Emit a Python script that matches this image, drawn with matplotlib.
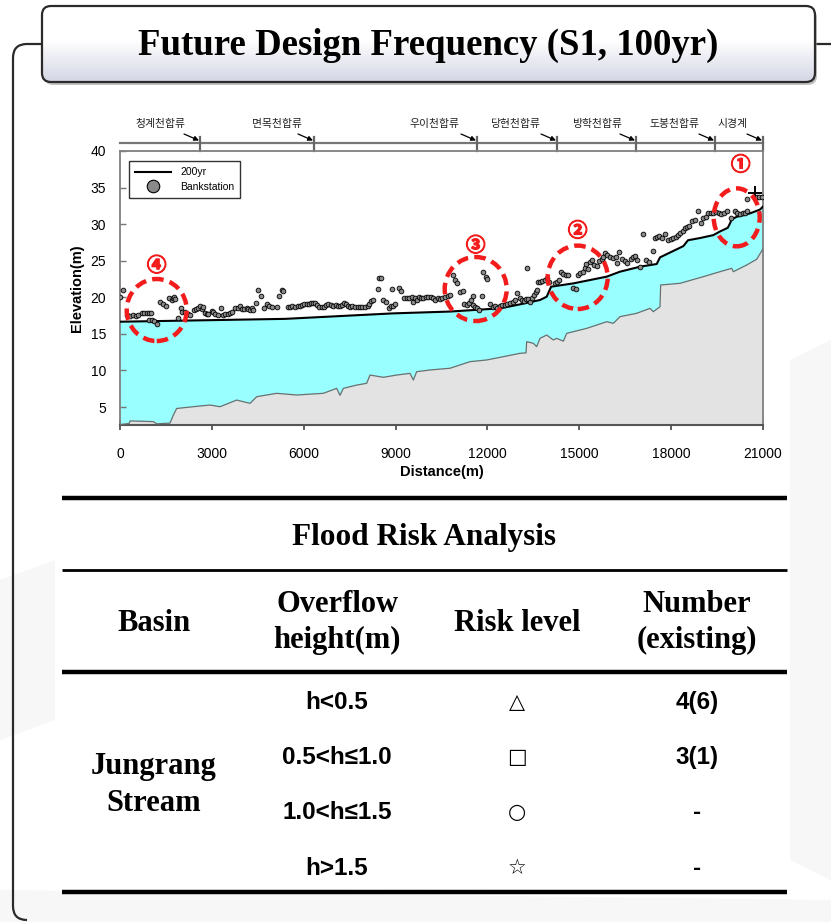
import numpy as np
import matplotlib
matplotlib.use('Agg')
import matplotlib.pyplot as plt
import matplotlib.patheffects as pe
from matplotlib.patches import FancyBboxPatch, Ellipse, Polygon, PathPatch
from matplotlib.path import Path
from matplotlib.transforms import blended_transform_factory
from matplotlib.lines import Line2D
from matplotlib.colors import LinearSegmentedColormap

# ---------------- data ----------------
ground_x = [0, 300, 330, 1089, 1197, 1633, 1742, 1851, 2395, 2939, 3266, 3811, 4246, 4464,
            5117, 5770, 6641, 7076, 7185, 7294, 7730, 8056, 8165, 8600, 9036, 9471, 9580,
            9689, 10124, 10778, 11431, 11975, 12519, 13064, 13260, 13282, 13499, 13608,
            13717, 13935, 14152, 14261, 14479, 14588, 15241, 15895, 16112, 16330, 16874,
            17310, 17418, 17636, 17658, 18289, 19051, 19596, 19977, 20030, 20466, 20794,
            20968, 21000]
ground_y = [2.6, 2.75, 3.1, 3.0, 2.7, 2.8, 3.9, 4.8, 5.04, 5.27, 5.04, 5.95, 5.5, 6.41,
            6.87, 6.64, 6.87, 7.55, 6.6, 7.55, 8.0, 8.24, 9.37, 9.06, 9.37, 9.6, 8.69,
            9.83, 10.06, 10.3, 11.2, 11.43, 11.88, 12.34, 12.4, 13.93, 13.71, 13.25,
            14.39, 14.84, 14.16, 14.39, 14.0, 15.07, 15.75, 16.66, 16.44, 17.35, 17.81,
            18.49, 18.03, 18.71, 21.68, 21.91, 22.82, 23.5, 23.96, 23.5, 24.41, 25.2,
            26.4, 26.7]

water_x = [0, 5389, 8916, 10778, 12411, 12955, 13717, 13935, 14080, 14806, 15895, 16330,
           16983, 17528, 17637, 18400, 18550, 18943, 19378, 19596, 19850, 19922, 19977,
           20140, 20575, 20902, 21000]
water_y = [16.66, 17.05, 17.8, 18.05, 18.49, 18.94, 19.63, 20.08, 21.45, 21.9, 22.82, 23.5,
           24.18, 24.55, 25.46, 27.0, 27.8, 28.1, 28.5, 29.0, 29.5, 30.1, 30.65, 31.0,
           31.47, 32.0, 32.4]

bank_x = [0, 109, 218, 327, 435, 512, 599, 708, 795, 871, 947, 1012, 947, 1034, 1121, 1198,
          1306, 1415, 1492, 1600, 1688, 1742, 1775, 1796, 1905, 1992, 2014, 2123, 2210,
          2286, 2406, 2471, 2558, 2613, 2689, 2722, 2776, 2831, 2885, 2994, 3048, 3103,
          3190, 3299, 3375, 3429, 3516, 3593, 3669, 3756, 3843, 3919, 3995, 4061, 4137,
          4191, 4246, 4322, 4355, 4431, 4496, 4605, 4714, 4790, 4866, 4953, 5117, 5193,
          5280, 5334,
          5476, 5552, 5628, 5716, 5803, 5879, 5955, 6020, 6097, 6173, 6238, 6314, 6369,
          6423, 6499, 6586, 6673, 6717, 6804, 6891, 6967, 7044, 7131, 7185, 7261, 7327,
          7370, 7436, 7512, 7588, 7675, 7762, 7838, 7915, 8002, 8089, 8132, 8198, 8274,
          8415, 8459, 8524, 8600, 8677, 8786, 8851, 8894, 8927, 8982, 9112, 9177, 9286,
          9363, 9439, 9526, 9580, 9635, 9689, 9765, 9831, 9907, 9983, 10070, 10157, 10233,
          10288, 10375, 10462, 10527, 10615, 10723, 10778,
          10887, 10941, 10996, 11104, 11192, 11235, 11322, 11409, 11453, 11518, 11540,
          11594, 11670, 11736, 11812, 11866, 11954, 11997, 12084, 12171, 12248, 12324,
          12411, 12465, 12574, 12650, 12737, 12825, 12901, 12977, 13064, 13118, 13195,
          13260, 13303, 13336, 13391, 13445, 13521, 13587, 13630, 13663, 13717, 13772,
          13881, 13957, 14022, 14207, 14283, 14348, 14392, 14479, 14566, 14643, 14784,
          14893, 14969, 15024, 15111, 15187, 15219, 15296, 15350, 15405, 15481, 15568,
          15655, 15742, 15786,
          15840, 15916, 16003, 16091, 16199, 16243, 16308, 16384, 16493, 16570, 16678,
          16765, 16820, 16896, 16983, 17092, 17179, 17288, 17397, 17473, 17549, 17615,
          17691, 17800, 17908, 17985, 18072, 18159, 18235, 18290, 18377, 18453, 18529,
          18595, 18671, 18780, 18888, 18965, 19052, 19139, 19215, 19291, 19378, 19465,
          19553, 19618, 19727, 19814, 19944, 20086, 20162, 20249, 20336, 20412, 20489,
          20467, 20794, 20881, 20968]
bank_y = [19.99, 20.99, 17.57, 17.48, 17.57, 17.44, 17.57, 17.85, 17.89, 17.89, 17.89, 17.89,
          16.89, 16.89, 16.75, 16.30, 19.40, 19.03, 18.85, 19.85, 19.62, 19.94, 20.08,
          19.72, 17.21, 18.48, 18.03, 18.03, 17.66, 17.57, 18.26, 18.39, 18.48, 18.85,
          18.35, 18.71, 17.80, 17.66, 17.66, 18.12, 17.94, 17.66, 17.57, 18.48, 17.57,
          17.66, 17.66, 17.80, 18.03, 18.48, 18.58, 18.76, 18.39, 18.39, 18.48, 18.35,
          18.30, 18.48, 18.26, 19.26, 20.99, 20.22, 18.58, 19.03, 18.85, 18.71, 18.62,
          20.17, 20.99, 20.85,
          18.71, 18.62, 18.85, 18.71, 18.80, 18.85, 18.94, 19.12, 19.03, 19.12, 19.26,
          19.26, 19.17, 18.94, 18.71, 18.62, 18.71, 18.94, 19.03, 18.94, 18.85, 18.94,
          18.85, 18.85, 18.94, 19.17, 19.03, 18.85, 18.71, 18.85, 18.71, 18.71, 18.62,
          18.71, 18.62, 18.85, 19.03, 19.49, 19.58, 21.13, 22.59, 22.59, 19.62, 19.31,
          18.48, 18.80, 21.13, 18.85, 19.03, 21.31, 20.85, 19.85, 19.85, 19.94, 19.99,
          19.31, 19.85, 19.58, 20.08, 19.94, 19.85, 19.99, 19.99, 20.08, 19.85, 19.62,
          19.85, 19.76, 19.94, 20.08, 20.22, 20.31,
          23.04, 22.36, 21.90, 20.76, 20.90, 19.03, 18.94, 19.17, 19.63, 20.17, 18.94,
          18.71, 18.49, 18.26, 20.22, 23.50, 22.82, 22.50, 19.03, 18.71, 18.85, 18.58,
          18.85, 18.94, 18.94, 19.03, 19.17, 19.31, 19.63, 20.63, 19.85, 19.63, 19.49,
          19.76, 23.95, 19.76, 19.31, 19.94, 20.31, 20.76, 20.99, 22.04, 22.04, 22.22,
          22.36, 22.59, 22.13, 21.90, 22.13, 22.36, 23.41, 23.13, 23.04, 23.04, 21.31,
          21.13, 23.04, 23.27, 23.50, 23.95, 24.50, 23.86, 24.87, 25.09, 24.41, 24.32,
          24.96, 25.23, 25.55,
          26.01, 25.78, 25.46, 25.32, 25.46, 24.64, 26.23, 25.19, 25.00, 24.73, 25.19,
          25.46, 25.64, 25.09, 24.09, 28.65, 25.09, 24.87, 26.37, 28.06, 28.19, 28.38,
          28.06, 28.65, 27.83, 27.92, 28.06, 28.28, 28.51, 28.83, 29.10, 29.42, 29.56,
          29.74, 30.47, 30.56, 31.79, 30.20, 30.79, 31.02, 31.47, 31.57, 31.57, 31.66,
          31.57, 31.34, 31.47, 31.84, 30.79, 31.75, 31.47, 31.38, 31.47, 31.57, 31.84,
          33.39, 33.75, 33.75, 33.75]

cross_x = [20740]
cross_y = [34.2]

trib_names = ['청계천합류', '면목천합류', '우이천합류', '당현천합류', '방학천합류', '도봉천합류', '시경계']
trib_x = [2613, 6336, 11659, 14272, 16852, 19432, 21000]

risk_ids = ['①', '②', '③', '④']
risk_x = [20141, 14948, 11617, 1199]
risk_y = [30.93, 22.73, 21.13, 18.26]

x_ticks = [0, 3000, 6000, 9000, 12000, 15000, 18000, 21000]
y_ticks = [5, 10, 15, 20, 25, 30, 35, 40]

tbl_title = 'Flood Risk Analysis'
tbl_header = [['Basin'], ['Overflow', 'height(m)'], ['Risk level'], ['Number', '(existing)']]
tbl_basin = ['Jungrang', 'Stream']
tbl_height = ['h<0.5', '0.5<h≤1.0', '1.0<h≤1.5', 'h>1.5']
tbl_symbol = ['△', '□', '○', '☆']
tbl_number = ['4(6)', '3(1)', '-', '-']

# ---------------- figure ----------------
W, H = 831, 922
fig = plt.figure(figsize=(W / 100, H / 100), dpi=100)
fig.patch.set_facecolor('white')
cv = fig.add_axes([0, 0, 1, 1], zorder=0)
cv.set_xlim(0, W)
cv.set_ylim(H, 0)
cv.axis('off')

# faint background bands
for pts in [[(0, 580), (55, 560), (55, 720), (0, 740)],
            [(790, 360), (831, 340), (831, 880), (790, 860)],
            [(0, 890), (831, 900), (831, 922), (0, 922)]]:
    cv.add_patch(Polygon(pts, closed=True, fc='#f7f7f7', ec='none', zorder=0))

# outer frame line
verts = [(42, 44), (27, 44), (13, 44), (13, 58), (13, 906), (13, 920), (27, 920)]
codes = [Path.MOVETO, Path.LINETO, Path.CURVE3, Path.CURVE3, Path.LINETO, Path.CURVE3, Path.CURVE3]
cv.add_patch(PathPatch(Path(verts, codes), fc='none', ec='#2a2a2a', lw=1.6, zorder=1))
cv.plot([815, 831], [44, 44], color='#2a2a2a', lw=1.6, zorder=1)

# title box
shadow = FancyBboxPatch((44, 9), 773, 76, boxstyle='round,pad=0,rounding_size=9',
                        fc='#9a9a9a', ec='none', alpha=0.6, zorder=1)
cv.add_patch(shadow)
box = FancyBboxPatch((42, 6), 773, 76, boxstyle='round,pad=0,rounding_size=9',
                     fc='none', ec='#2b2b2b', lw=1.6, zorder=3)
cv.add_patch(box)
clipbox = FancyBboxPatch((42, 6), 773, 76, boxstyle='round,pad=0,rounding_size=9',
                         fc='none', ec='none', transform=cv.transData)
cv.add_patch(clipbox)
cmap = LinearSegmentedColormap.from_list('tg', [(0, '#ffffff'), (0.45, '#ffffff'), (1, '#d3d6e4')])
grad = np.linspace(0, 1, 200).reshape(-1, 1)
im = cv.imshow(grad, extent=(42, 815, 82, 6), cmap=cmap, aspect='auto', zorder=2)
im.set_clip_path(clipbox)
cv.set_xlim(0, W)
cv.set_ylim(H, 0)
cv.text(428, 45, 'Future Design Frequency (S1, 100yr)', ha='center', va='center',
        fontsize=26.5, fontweight='bold', family='Liberation Serif', zorder=4)

# ---------------- chart ----------------
ax = fig.add_axes([120 / W, 1 - 425 / H, 643 / W, 274 / H], zorder=2)
ax.set_xlim(0, 21000)
ax.set_ylim(2.54, 40)
ax.set_facecolor('white')

ax.fill_between(water_x, 0, water_y, color='#99ffff', lw=0, zorder=1)
ax.fill_between(ground_x, 0, ground_y, color='#e3e3e3', lw=0, zorder=2)
ax.plot(ground_x, ground_y, color='#6e6e6e', lw=0.9, zorder=3)
ax.plot(water_x, water_y, color='black', lw=1.5, zorder=4, label='200yr')
ax.plot(bank_x, bank_y, 'o', ms=3.4, mfc='#8a8a8a', mec='black', mew=0.6, zorder=5,
        label='Bankstation')
ax.plot(cross_x, cross_y, '+', ms=10, mew=1.4, color='black', zorder=6)

ax.set_xticks(x_ticks)
ax.set_xticklabels([str(v) for v in x_ticks])
ax.set_yticks(y_ticks)
ax.set_yticklabels([str(v) for v in y_ticks])
ax.tick_params(axis='x', direction='inout', length=7, width=1.2, colors='#444444',
               labelcolor='black', pad=12, labelsize=10)
ax.tick_params(axis='y', direction='in', length=4, width=1.0, colors='#777777',
               labelcolor='black', pad=10, labelsize=10)
for s in ['left', 'top', 'right']:
    ax.spines[s].set_color('#808080')
    ax.spines[s].set_linewidth(1.3)
ax.spines['bottom'].set_color('#555555')
ax.spines['bottom'].set_linewidth(1.5)
for lab in ax.get_xticklabels() + ax.get_yticklabels():
    lab.set_family('Liberation Sans')
ax.set_xlabel('Distance(m)', fontsize=10.5, fontweight='bold', family='Liberation Sans', labelpad=3)
ax.set_ylabel('Elevation(m)', fontsize=10.5, fontweight='bold', family='Liberation Sans', labelpad=5)

leg_handles = [Line2D([], [], color='black', lw=1.5),
               Line2D([], [], ls='none', marker='o', ms=9, mfc='#8a8a8a', mec='black', mew=0.8)]
leg = ax.legend(leg_handles, ['200yr', 'Bankstation'], loc='upper left',
                bbox_to_anchor=(0.014, 0.9635), borderaxespad=0, fancybox=False,
                frameon=True, edgecolor='black', handlelength=3.4,
                borderpad=0.6, labelspacing=0.45, handletextpad=0.9,
                prop={'family': 'Liberation Sans', 'size': 7.5})
leg.get_frame().set_linewidth(1.0)
leg.set_zorder(7)

# red dashed circles with ids
px_m = 21000 / 643.0
px_e = 1 / 7.314
rx_px = [23, 30, 31, 30]
ry_px = [29, 31.7, 32, 31]
lab_dy = [52, 46, 43, 44]
for i, (nm, cx, cy) in enumerate(zip(risk_ids, risk_x, risk_y)):
    e = Ellipse((cx, cy), 2 * rx_px[i] * px_m, 2 * ry_px[i] * px_e, fill=False,
                ec='#f21c1c', lw=3.2, ls=(0, (2.6, 1.4)), zorder=8)
    ax.add_patch(e)
    t = ax.text(cx + (4 if i == 0 else 0) * px_m, cy + lab_dy[i] * px_e, nm, ha='center',
                va='center', color='#f21c1c', fontsize=14, fontweight='bold',
                family=['Noto Sans CJK KR', 'DejaVu Sans'], zorder=8)
    t.set_path_effects([pe.withStroke(linewidth=0.9, foreground='#f21c1c')])

# tributary bar above the chart
tr = blended_transform_factory(ax.transData, cv.transData)
ax.plot([0, 21000], [143.5, 143.5], color='#777777', lw=1.6, transform=tr, clip_on=False)
lab_off_px = [40, 37, 42, 42, 39, 40, 30]
for nm, tx, off in zip(trib_names, trib_x, lab_off_px):
    ax.plot([tx, tx], [137, 151], color='#666666', lw=1.6, transform=tr, clip_on=False)
    ax.text(tx - off * px_m, 124, nm, transform=tr, ha='center', va='center', fontsize=7.8,
            family=['Noto Sans CJK KR', 'DejaVu Sans'], color='#222222', clip_on=False)
    ax.annotate('', xy=(tx - 1 * px_m, 140.5), xytext=(tx - 16 * px_m, 134), xycoords=tr,
                textcoords=tr, annotation_clip=False,
                arrowprops=dict(arrowstyle='-|>', color='black', lw=0.9,
                                mutation_scale=7, shrinkA=0, shrinkB=0))

# ---------------- table ----------------
for y, lw in [(498, 3.2), (570, 2.0), (672, 3.2), (892, 3.2)]:
    cv.plot([62, 787], [y, y], color='black', lw=lw, solid_capstyle='butt', zorder=3)

serif = dict(family='Liberation Serif', fontweight='bold', ha='center', va='center', zorder=4)
sans = dict(family='Liberation Sans', fontweight='bold', ha='center', va='center', zorder=4)
cv.text(424, 537, tbl_title, fontsize=22.5, **serif)

col_x = [154, 337, 517, 697]
for cx, lines in zip(col_x, tbl_header):
    if len(lines) == 1:
        cv.text(cx, 623, lines[0], fontsize=22, **serif)
    else:
        cv.text(cx, 604, lines[0], fontsize=22, **serif)
        cv.text(cx, 640, lines[1], fontsize=22, **serif)

cv.text(154, 766, tbl_basin[0], fontsize=22, **serif)
cv.text(154, 803, tbl_basin[1], fontsize=22, **serif)

row_y = [702, 757, 812, 868]
for ry, hh, sym, num in zip(row_y, tbl_height, tbl_symbol, tbl_number):
    cv.text(col_x[1], ry, hh, fontsize=17.5, **sans)
    cv.text(col_x[2], ry, sym, fontsize=15, family=['DejaVu Sans'], ha='center',
            va='center', zorder=4)
    cv.text(col_x[3], ry, num, fontsize=17.5, **sans)

fig.savefig('out.png', dpi=100, facecolor='white')
